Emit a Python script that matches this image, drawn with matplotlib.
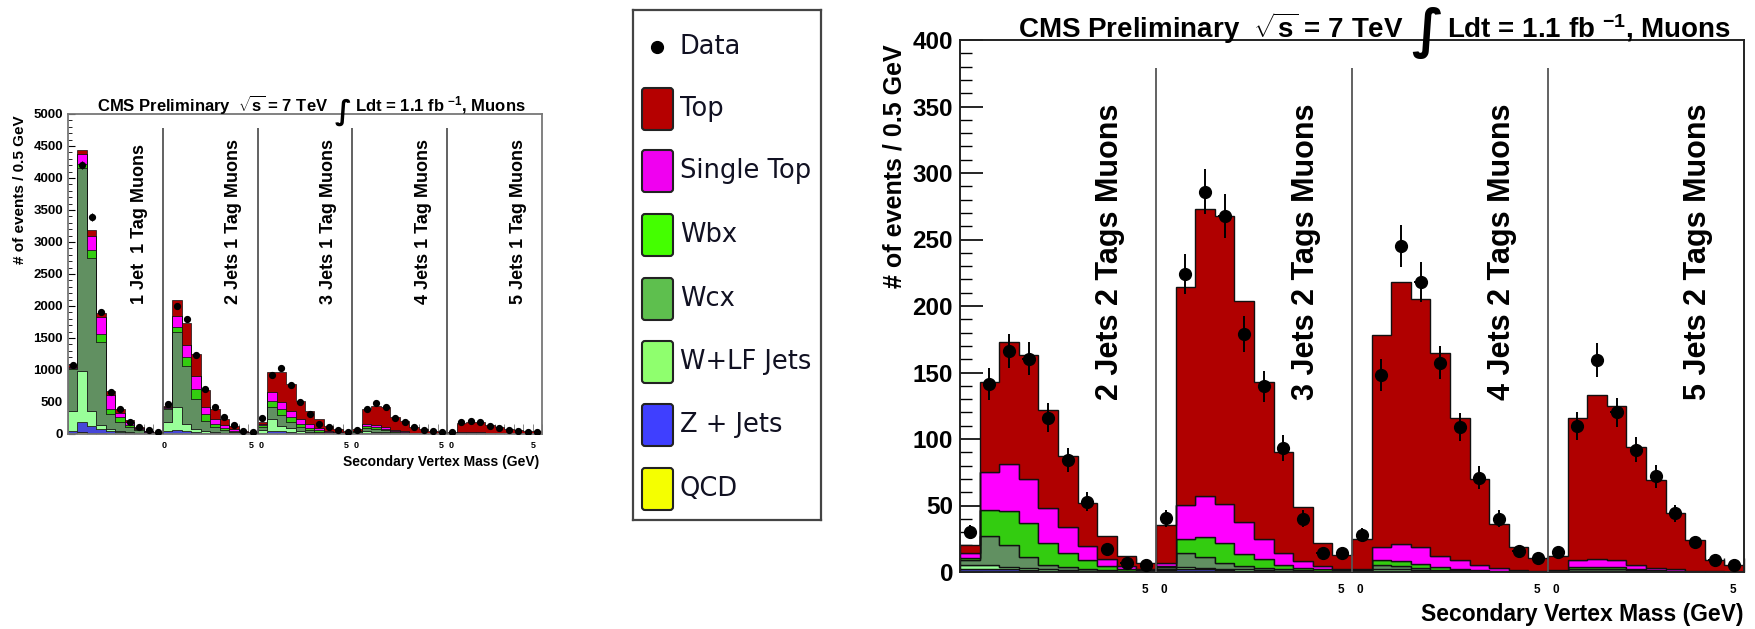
import numpy as np
import matplotlib
matplotlib.use("Agg")
import matplotlib.pyplot as plt
from matplotlib.patches import FancyBboxPatch
from matplotlib.lines import Line2D

plt.rcParams['font.family'] = ['Liberation Sans', 'DejaVu Sans']
plt.rcParams['font.weight'] = 'bold'
plt.rcParams['mathtext.fontset'] = 'custom'
plt.rcParams['mathtext.rm'] = 'Liberation Sans:bold'
plt.rcParams['mathtext.it'] = 'Liberation Sans:bold'
plt.rcParams['mathtext.bf'] = 'Liberation Sans:bold'
plt.rcParams['mathtext.sf'] = 'Liberation Sans:bold'

# ---------------- data: left panel (1 tag), 5 segments x 10 bins ----------------
left_labels = ["1 Jet  1 Tag Muons", "2 Jets 1 Tag Muons", "3 Jets 1 Tag Muons",
               "4 Jets 1 Tag Muons", "5 Jets 1 Tag Muons"]
l_qcd = [15, 30, 20, 10, 5, 0, 0, 0, 0, 0,
         0, 0, 0, 0, 0, 0, 0, 0, 0, 0,
         0, 0, 0, 0, 0, 0, 0, 0, 0, 0,
         0, 0, 0, 0, 0, 0, 0, 0, 0, 0,
         0, 0, 0, 0, 0, 0, 0, 0, 0, 0]
l_zjets = [25, 150, 100, 70, 35, 25, 15, 8, 5, 3,
           40, 70, 50, 30, 20, 12, 8, 5, 3, 2,
           20, 50, 50, 30, 15, 10, 5, 3, 2, 1,
           5, 15, 15, 10, 5, 3, 2, 1, 1, 0,
           1, 3, 3, 2, 2, 1, 1, 0, 0, 0]
l_wlf = [320, 810, 240, 60, 40, 25, 15, 7, 5, 2,
         150, 350, 110, 50, 30, 18, 12, 5, 2, 1,
         40, 185, 80, 60, 30, 15, 10, 5, 2, 1,
         10, 25, 20, 15, 10, 5, 3, 2, 1, 1,
         2, 5, 5, 4, 2, 2, 1, 1, 1, 0]
l_wcx = [650, 3160, 2390, 1290, 230, 140, 85, 45, 20, 10,
         200, 1170, 910, 470, 160, 75, 45, 25, 10, 5,
         50, 185, 160, 90, 60, 35, 20, 10, 6, 3,
         15, 60, 50, 30, 15, 10, 5, 3, 1, 1,
         3, 7, 7, 6, 4, 2, 1, 1, 0, 1]
l_wbx = [20, 70, 120, 130, 80, 70, 25, 15, 8, 5,
         15, 80, 130, 150, 100, 55, 25, 15, 7, 4,
         30, 100, 100, 80, 50, 30, 25, 12, 5, 3,
         10, 20, 20, 20, 15, 10, 5, 3, 2, 1,
         2, 7, 7, 6, 4, 3, 2, 1, 1, 0]
l_stop = [20, 150, 220, 270, 220, 70, 50, 15, 7, 3,
          15, 180, 190, 210, 110, 75, 50, 25, 8, 4,
          20, 130, 110, 105, 80, 65, 40, 20, 10, 4,
          10, 30, 30, 30, 20, 12, 7, 4, 2, 1,
          2, 10, 13, 10, 6, 4, 2, 1, 1, 1]
l_top = [30, 70, 100, 60, 60, 60, 35, 15, 7, 3,
         25, 240, 340, 340, 260, 155, 95, 55, 22, 10,
         23, 325, 465, 415, 285, 210, 135, 80, 53, 40,
         28, 240, 310, 310, 195, 170, 93, 65, 45, 33,
         27, 140, 158, 155, 123, 103, 71, 59, 49, 40]
l_data = [1085, 4200, 3390, 1900, 650, 390, 195, 105, 63, 37,
          470, 2000, 1790, 1230, 705, 415, 260, 140, 52, 37,
          245, 925, 1030, 760, 495, 315, 160, 105, 63, 37,
          63, 390, 480, 415, 245, 195, 105, 63, 42, 37,
          37, 183, 198, 183, 130, 94, 63, 42, 37, 26]

# ---------------- data: right panel (2 tags), 4 segments x 10 bins ----------------
right_labels = ["2 Jets 2 Tags Muons", "3 Jets 2 Tags Muons",
                "4 Jets 2 Tags Muons", "5 Jets 2 Tags Muons"]
r_qcd = [0] * 40
r_zjets = [2.5, 2, 2, 1.5, 1, 1, 0.5, 0.5, 0.3, 0.3,
           1.5, 2, 2, 1.5, 1, 1, 0.5, 0.5, 0.3, 0.3,
           0.5, 1, 1, 0.8, 0.5, 0.5, 0.3, 0.2, 0.2, 0.1,
           0.3, 0.5, 0.5, 0.5, 0.3, 0.2, 0.2, 0.1, 0.1, 0]
r_wlf = [2.5, 3, 2, 1.5, 1, 0.5, 0.5, 0.5, 0.2, 0.2,
         1, 1.5, 1, 1, 1, 0.5, 0.5, 0.3, 0.2, 0.2,
         0.3, 1, 1, 0.7, 0.5, 0.3, 0.2, 0.2, 0.1, 0.1,
         0.2, 0.5, 0.5, 0.3, 0.2, 0.2, 0.1, 0.1, 0, 0.1]
r_wcx = [4, 22, 16.5, 8, 3.5, 2, 1, 0.5, 0.5, 0.5,
         1, 11, 8.5, 4.5, 2.5, 1.5, 1, 0.7, 0.5, 0.3,
         0.2, 3, 2.5, 1.5, 0.5, 0.4, 0.3, 0.2, 0.2, 0.1,
         0.3, 1.5, 1.5, 1.2, 0.7, 0.4, 0.2, 0.1, 0.1, 0]
r_wbx = [1.5, 19.5, 25, 25.5, 16.5, 11, 7, 3, 1.5, 0.5,
         1, 10.5, 14.5, 14.5, 9, 6.5, 3.5, 1.5, 1.5, 0.7,
         0.3, 4, 4, 3, 2, 0.8, 0.5, 0.4, 0.3, 0.2,
         0.2, 1.5, 1.5, 1.5, 0.8, 0.4, 0.3, 0.2, 0.1, 0.1]
r_stop = [3.5, 28.5, 36, 33.5, 26, 19.5, 10.5, 5.5, 2, 1,
          2.5, 25.5, 31.5, 29.5, 24, 15.5, 9, 5.5, 2, 1,
          0.7, 10, 12.5, 13, 8.5, 7, 3.7, 2, 0.7, 0.5,
          0.5, 5, 6, 5.5, 3.3, 2.1, 1.2, 0.5, 0.2, 0.1]
r_top = [6, 68, 91.5, 93.5, 74, 53, 32.5, 17, 7.5, 4.5,
         28, 164, 215.5, 217, 166.5, 118, 75.5, 40.5, 17, 10,
         23, 159, 197, 186, 152.5, 107, 65, 33, 17, 9.5,
         10.5, 107, 123, 116, 89, 65.7, 42.5, 23, 8.5, 4.7]
r_data = [30, 141.5, 166, 160.5, 116, 84, 53, 17, 7, 5,
          40.5, 224, 286, 267.5, 179, 139.5, 93.5, 40, 14, 14,
          28, 148, 245, 218, 157.5, 109, 71, 40, 16, 10.5,
          15, 109.5, 159.5, 120, 92, 72, 44, 22.5, 9, 5]

legend_names = ["Top", "Single Top", "Wbx", "Wcx", "W+LF Jets", "Z + Jets", "QCD"]

# ---------------- styles ----------------
stack_colors = ['#FFFF00', '#4646D8', '#99FF99', '#619061', '#33CC10', '#FF00FF', '#B00000']
legend_colors = ['#B50000', '#F000F0', '#44FF00', '#5EBF4E', '#8FFF6E', '#3F3FFF', '#F5FF00']

W, H = 1756, 629
fig = plt.figure(figsize=(W / 100, H / 100), dpi=100)
fig.patch.set_facecolor('white')


def fx(px):
    return px / W


def fy(py):
    return 1 - py / H


def draw_panel(ax, comps, data, nseg, ymax, lw_edge, ms, elw, xerr, sep_top):
    edges = np.arange(0, nseg * 5 + 0.001, 0.5)
    centers = edges[:-1] + 0.25
    base = np.zeros(len(edges) - 1)
    for vals, col in zip(comps, stack_colors):
        top = base + np.asarray(vals, dtype=float)
        ax.stairs(top, edges, baseline=base.copy(), fill=True, facecolor=col,
                  edgecolor='#111111', linewidth=lw_edge, zorder=2)
        base = top
    d = np.asarray(data, dtype=float)
    ax.errorbar(centers, d, yerr=np.sqrt(d), xerr=xerr, fmt='o', color='black',
                ms=ms, elinewidth=elw, capsize=0, zorder=5)
    ax.vlines(np.arange(5, nseg * 5, 5), 0, sep_top, colors='#555555', lw=1.3, zorder=4)
    ax.set_xlim(0, nseg * 5)
    ax.set_ylim(0, ymax)


# ---------------- left panel ----------------
axL = fig.add_axes([fx(68), fy(434), (542 - 68) / W, (434 - 114) / H])
draw_panel(axL, [l_qcd, l_zjets, l_wlf, l_wcx, l_wbx, l_stop, l_top], l_data, 5, 5000,
           0.5, 4.2, 0.8, 0.15, 4786)
axL.set_yticks(np.arange(0, 5001, 500))
axL.set_yticks(np.arange(0, 5001, 100), minor=True)
lx = [5.05, 9.68, 10.21, 14.68, 15.21, 19.68, 20.21, 24.53]
axL.set_xticks(lx)
axL.set_xticklabels(['0', '5', '0', '5', '0', '5', '0', '5'])
axL.set_xticks(np.arange(0, 25.01, 0.5), minor=True)
axL.tick_params(axis='x', which='major', length=0, pad=5, labelsize=6.5)
axL.tick_params(axis='x', which='minor', direction='in', length=7, width=0.7, color='#888888')
axL.tick_params(axis='y', which='major', direction='in', length=5, width=0.8, pad=3.6, labelsize=9.5)
axL.tick_params(axis='y', which='minor', direction='in', length=2.8, width=0.6)
for s in axL.spines.values():
    s.set_color('#777777')
    s.set_linewidth(1.3)
for i, lab in enumerate(left_labels):
    axL.text(i * 5 + 3.75, 2031, lab, rotation=90, ha='center', va='bottom',
             fontsize=13, fontweight='bold', zorder=6)

fig.text(fx(97), fy(111), r"CMS Preliminary  $\sqrt{s}$ = 7 TeV", ha='left', va='baseline',
         fontsize=12, fontweight='bold')
fig.text(fx(343), fy(112), "\u222b", ha='center', va='center', fontsize=20,
         family=['DejaVu Sans'])
fig.text(fx(355), fy(111), r"Ldt = 1.1 fb $^{-1}$, Muons", ha='left', va='baseline',
         fontsize=12, fontweight='bold')
fig.text(fx(20), fy(115), "# of events / 0.5 GeV", rotation=90, ha='center', va='top',
         fontsize=11, fontweight='bold')
fig.text(fx(539), fy(462), "Secondary Vertex Mass (GeV)", ha='right', va='center',
         fontsize=10, fontweight='bold')

# ---------------- right panel ----------------
axR = fig.add_axes([fx(960), fy(572), (1744 - 960) / W, (572 - 40) / H])
draw_panel(axR, [r_qcd, r_zjets, r_wlf, r_wcx, r_wbx, r_stop, r_top], r_data, 4, 400,
           1.0, 8.5, 1.4, 0.16, 379)
axR.set_yticks(np.arange(0, 401, 50))
axR.set_yticks(np.arange(0, 401, 10), minor=True)
rx = [4.72, 5.2, 9.72, 10.2, 14.72, 15.2, 19.72]
axR.set_xticks(rx)
axR.set_xticklabels(['5', '0', '5', '0', '5', '0', '5'])
axR.set_xticks(np.arange(0, 20.01, 0.5), minor=True)
axR.tick_params(axis='x', which='major', length=0, pad=8.5, labelsize=8.5)
axR.tick_params(axis='x', which='minor', direction='in', length=10, width=1.0, color='#222222')
axR.tick_params(axis='y', which='major', direction='in', length=16.5, width=1.2, pad=5,
                labelsize=17.5)
axR.tick_params(axis='y', which='minor', direction='in', length=8.6, width=1.0)
for s in axR.spines.values():
    s.set_color('#222222')
    s.set_linewidth(1.4)
for i, lab in enumerate(right_labels):
    axR.text(i * 5 + 3.83, 129, lab, rotation=90, ha='center', va='bottom',
             fontsize=22, fontweight='bold', zorder=6)

fig.text(fx(1018), fy(38), r"CMS Preliminary  $\sqrt{s}$ = 7 TeV", ha='left', va='baseline',
         fontsize=20, fontweight='bold')
fig.text(fx(1427), fy(33), "\u222b", ha='center', va='center', fontsize=38,
         family=['DejaVu Sans'])
fig.text(fx(1447), fy(38), r"Ldt = 1.1 fb $^{-1}$, Muons", ha='left', va='baseline',
         fontsize=20, fontweight='bold')
fig.text(fx(895), fy(44), "# of events / 0.5 GeV", rotation=90, ha='center', va='top',
         fontsize=18, fontweight='bold')
fig.text(fx(1744), fy(615), "Secondary Vertex Mass (GeV)", ha='right', va='center',
         fontsize=16.5, fontweight='bold')

# ---------------- legend ----------------
axG = fig.add_axes([fx(633), fy(520), (821 - 633) / W, (520 - 10) / H])
axG.set_xlim(0, 188)
axG.set_ylim(510, 0)
axG.set_xticks([])
axG.set_yticks([])
for s in axG.spines.values():
    s.set_color('#444444')
    s.set_linewidth(1.6)
entry_y = [37, 99, 161, 225, 289, 352, 415, 479]
axG.add_line(Line2D([24], [entry_y[0]], marker='o', ms=8.5, color='black', ls='none'))
axG.text(47, entry_y[0], "Data", ha='left', va='center', fontsize=18.5, fontweight='normal',
         family=['DejaVu Sans'], color='#111122')
for name, col, yc in zip(legend_names, legend_colors, entry_y[1:]):
    axG.add_patch(FancyBboxPatch((9, yc - 21), 31, 42, boxstyle='round,pad=0,rounding_size=3',
                                 facecolor=col, edgecolor='#222222', linewidth=1.5))
    axG.text(47, yc, name, ha='left', va='center', fontsize=18.5, fontweight='normal',
             family=['DejaVu Sans'], color='#111122')

fig.savefig("out.png", dpi=100, facecolor='white')
